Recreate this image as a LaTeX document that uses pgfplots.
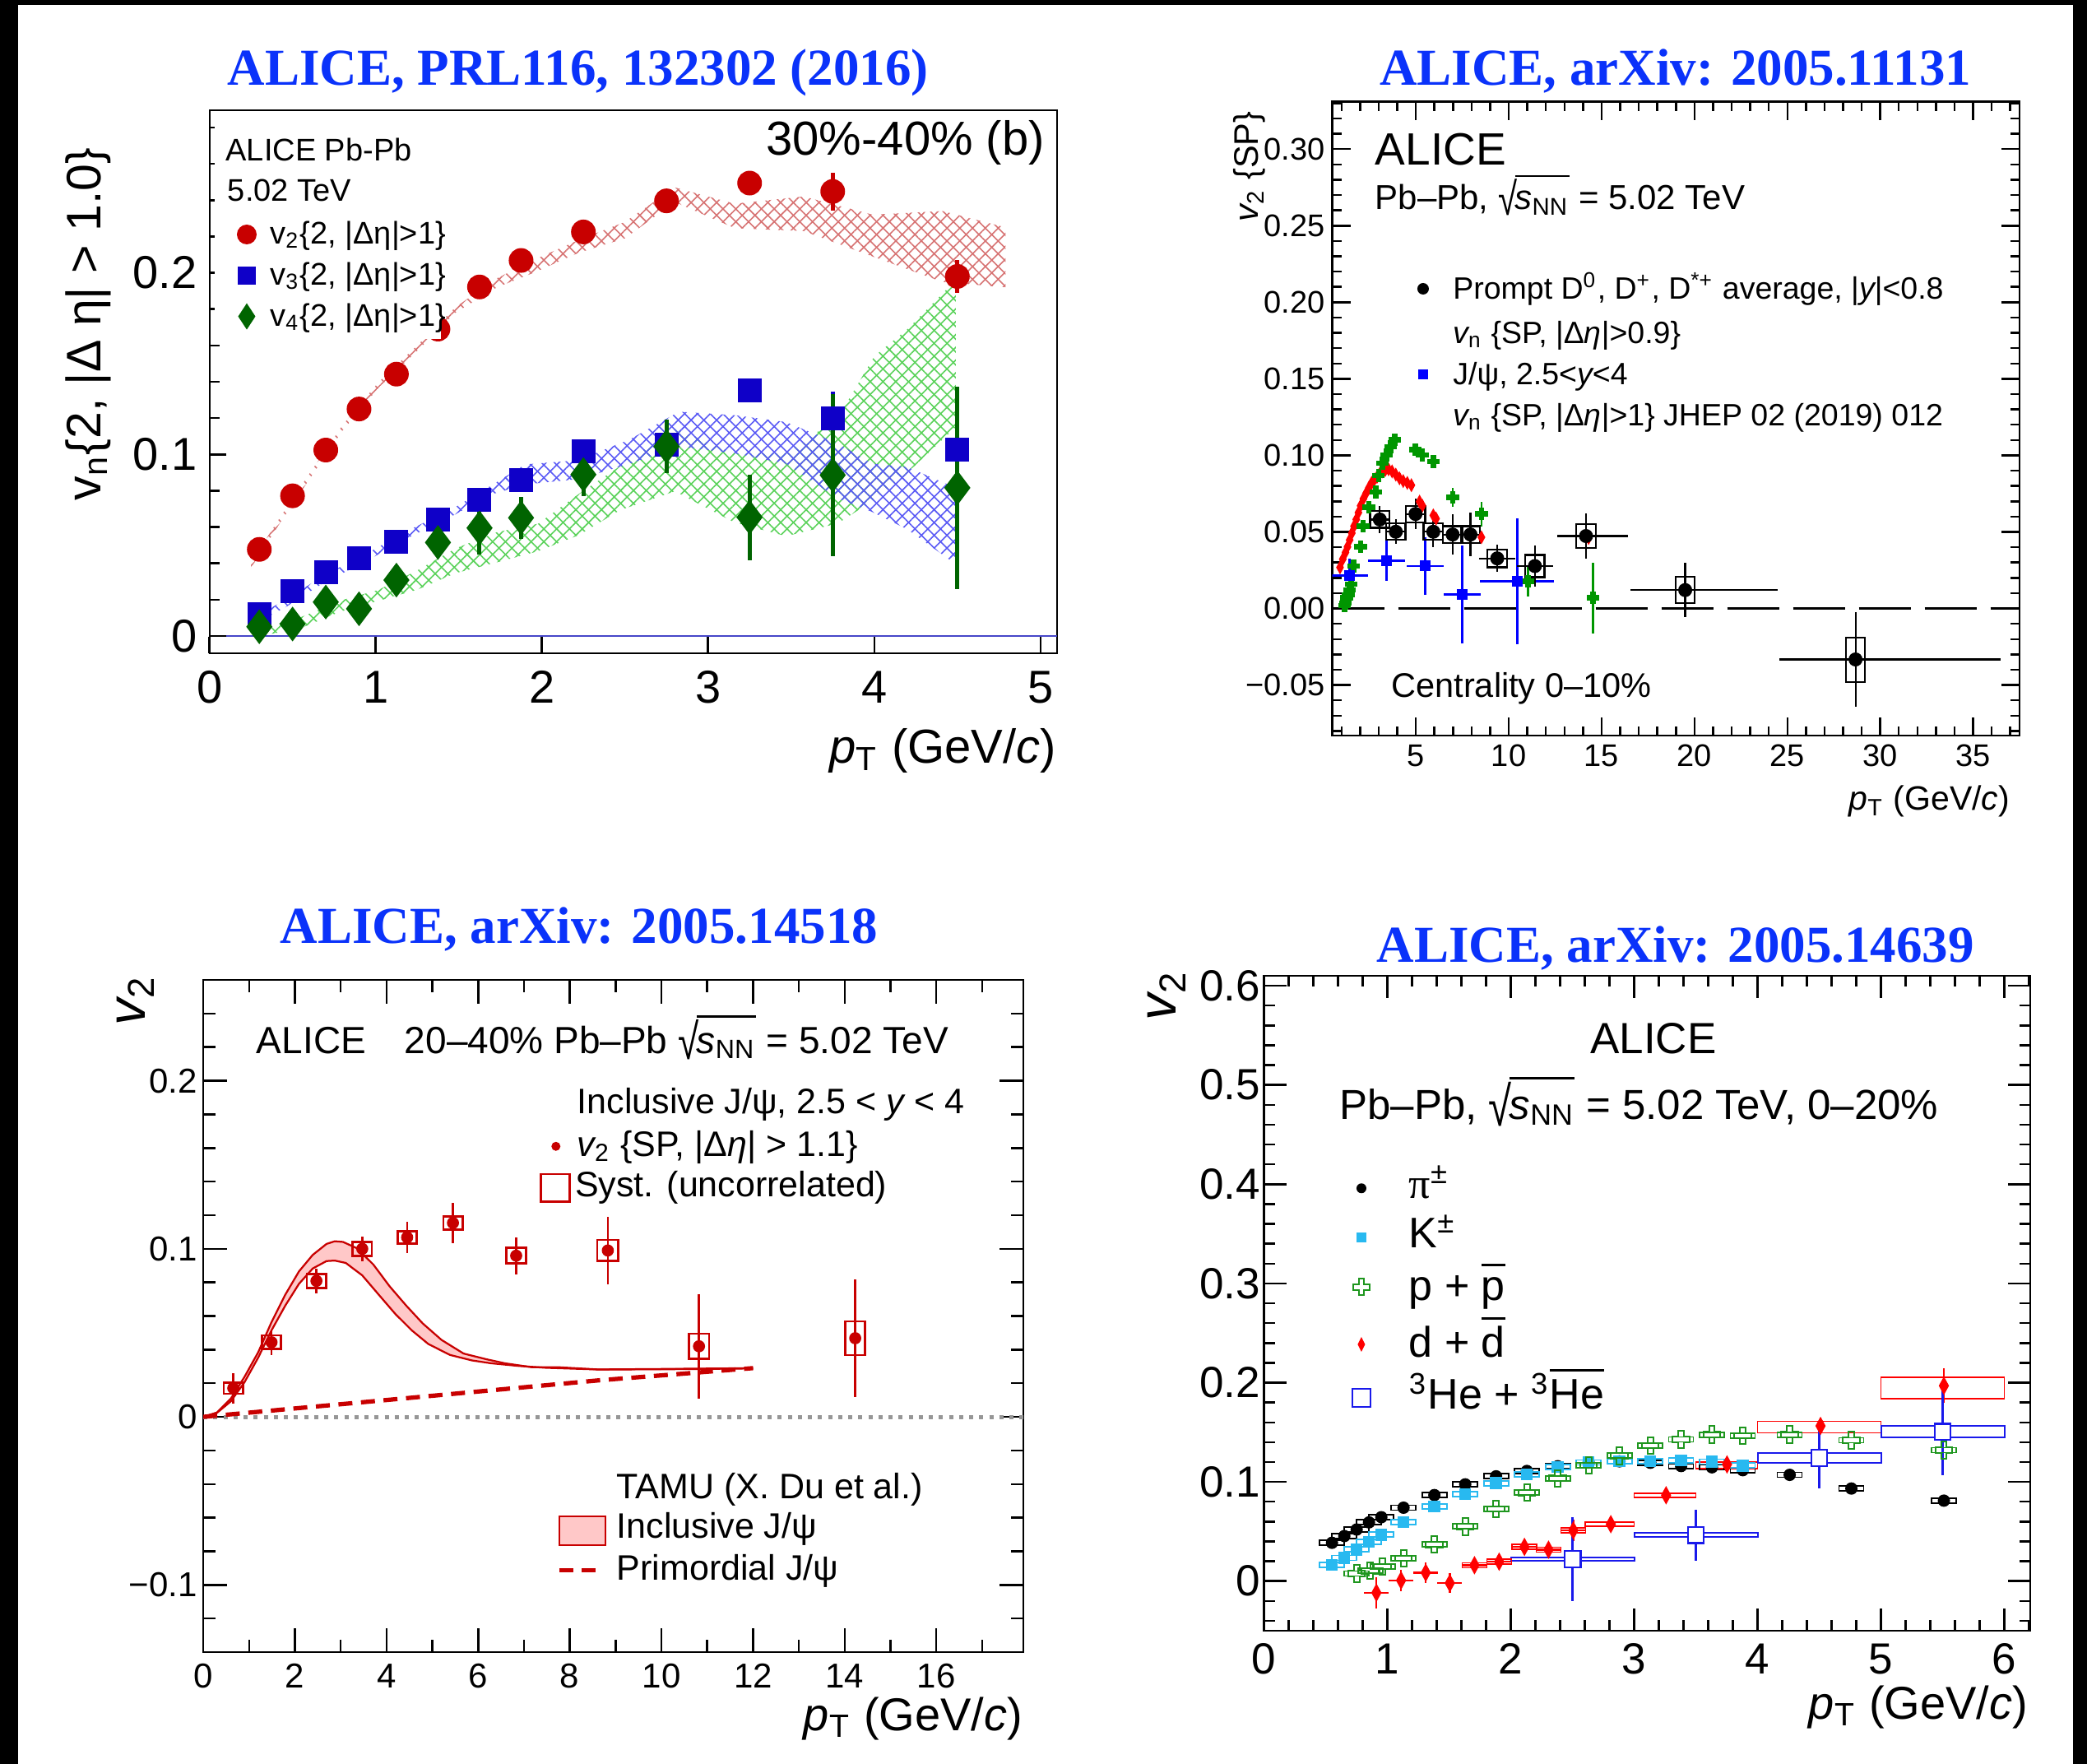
\documentclass[border=0pt]{standalone}
\usepackage{fontspec}
\setmainfont{Liberation Sans}
\newfontfamily\serif{Liberation Serif}
\usepackage{graphicx}
\usepackage{pgfplots}
\pgfplotsset{compat=1.18}
\usetikzlibrary{patterns.meta}

\definecolor{tblue}{RGB}{10,50,250}
\definecolor{aRed}{RGB}{200,0,0}
\definecolor{aBlue}{RGB}{15,0,200}
\definecolor{aGreen}{RGB}{0,100,0}
\definecolor{bRed}{RGB}{215,115,115}
\definecolor{bBlue}{RGB}{90,90,245}
\definecolor{bGreen}{RGB}{90,210,90}
\definecolor{zLine}{RGB}{70,70,200}
\definecolor{cRed}{RGB}{255,0,0}
\definecolor{cBlue}{RGB}{0,0,255}
\definecolor{cGreen}{RGB}{0,150,0}
\definecolor{dRed}{RGB}{200,0,0}
\definecolor{dPink}{RGB}{255,200,200}
\definecolor{dGray}{RGB}{150,150,150}
\definecolor{eCyan}{RGB}{40,185,240}
\definecolor{eGreen}{RGB}{30,150,30}
\definecolor{eRed}{RGB}{255,0,0}
\definecolor{eBlue}{RGB}{25,25,235}

\newcommand\fs[1]{\fontsize{#1bp}{#1bp}\selectfont}
\newcommand\ovl[2]{{\setbox0=\hbox{#2}\rlap{\rule[#1]{\wd0}{0.055em}}\box0}}
\newcommand\sNN{\raisebox{-0.16em}{\scalebox{1}[1.32]{√}}\kern-0.06em{\setbox0=\hbox{{\itshape s}\textsubscript{NN}}\rlap{\rule[0.95em]{\wd0}{0.05em}}\box0}}

\pgfdeclareplotmark{fcross}{%
  \pgfpathmoveto{\pgfqpoint{-0.33\pgfplotmarksize}{\pgfplotmarksize}}%
  \pgfpathlineto{\pgfqpoint{0.33\pgfplotmarksize}{\pgfplotmarksize}}%
  \pgfpathlineto{\pgfqpoint{0.33\pgfplotmarksize}{0.33\pgfplotmarksize}}%
  \pgfpathlineto{\pgfqpoint{\pgfplotmarksize}{0.33\pgfplotmarksize}}%
  \pgfpathlineto{\pgfqpoint{\pgfplotmarksize}{-0.33\pgfplotmarksize}}%
  \pgfpathlineto{\pgfqpoint{0.33\pgfplotmarksize}{-0.33\pgfplotmarksize}}%
  \pgfpathlineto{\pgfqpoint{0.33\pgfplotmarksize}{-\pgfplotmarksize}}%
  \pgfpathlineto{\pgfqpoint{-0.33\pgfplotmarksize}{-\pgfplotmarksize}}%
  \pgfpathlineto{\pgfqpoint{-0.33\pgfplotmarksize}{-0.33\pgfplotmarksize}}%
  \pgfpathlineto{\pgfqpoint{-\pgfplotmarksize}{-0.33\pgfplotmarksize}}%
  \pgfpathlineto{\pgfqpoint{-\pgfplotmarksize}{0.33\pgfplotmarksize}}%
  \pgfpathlineto{\pgfqpoint{-0.33\pgfplotmarksize}{0.33\pgfplotmarksize}}%
  \pgfpathclose\pgfusepathqfillstroke}
\pgfdeclareplotmark{ocross}{%
  \pgfpathmoveto{\pgfqpoint{-0.33\pgfplotmarksize}{\pgfplotmarksize}}%
  \pgfpathlineto{\pgfqpoint{0.33\pgfplotmarksize}{\pgfplotmarksize}}%
  \pgfpathlineto{\pgfqpoint{0.33\pgfplotmarksize}{0.33\pgfplotmarksize}}%
  \pgfpathlineto{\pgfqpoint{\pgfplotmarksize}{0.33\pgfplotmarksize}}%
  \pgfpathlineto{\pgfqpoint{\pgfplotmarksize}{-0.33\pgfplotmarksize}}%
  \pgfpathlineto{\pgfqpoint{0.33\pgfplotmarksize}{-0.33\pgfplotmarksize}}%
  \pgfpathlineto{\pgfqpoint{0.33\pgfplotmarksize}{-\pgfplotmarksize}}%
  \pgfpathlineto{\pgfqpoint{-0.33\pgfplotmarksize}{-\pgfplotmarksize}}%
  \pgfpathlineto{\pgfqpoint{-0.33\pgfplotmarksize}{-0.33\pgfplotmarksize}}%
  \pgfpathlineto{\pgfqpoint{-\pgfplotmarksize}{-0.33\pgfplotmarksize}}%
  \pgfpathlineto{\pgfqpoint{-\pgfplotmarksize}{0.33\pgfplotmarksize}}%
  \pgfpathlineto{\pgfqpoint{-0.33\pgfplotmarksize}{0.33\pgfplotmarksize}}%
  \pgfpathclose\pgfusepathqstroke}
\pgfdeclareplotmark{tdiamond*}{%
  \pgfpathmoveto{\pgfqpoint{0pt}{\pgfplotmarksize}}%
  \pgfpathlineto{\pgfqpoint{0.55\pgfplotmarksize}{0pt}}%
  \pgfpathlineto{\pgfqpoint{0pt}{-\pgfplotmarksize}}%
  \pgfpathlineto{\pgfqpoint{-0.55\pgfplotmarksize}{0pt}}%
  \pgfpathclose\pgfusepathqfillstroke}
\pgfdeclareplotmark{sbox}{%
  \pgfpathrectangle{\pgfqpoint{-3bp}{-0.6bp}}{\pgfqpoint{6bp}{1.2bp}}%
  \pgfusepathqstroke}

\pgfplotsset{
  rootax/.style={scale only axis, anchor=south west, tick align=inside, tick pos=both,
    axis line style={line width=0.5bp, black},
    tick style={line width=0.5bp, black},
    unbounded coords=jump, clip=true},
  hatchA/.style={draw=none, pattern={Lines[angle=45, distance=2.2bp, line width=0.32bp]}, pattern color=#1},
  hatchB/.style={draw=none, pattern={Lines[angle=-45, distance=2.2bp, line width=0.32bp]}, pattern color=#1},
}

\begin{document}
\begin{tikzpicture}
\path[use as bounding box] (0,0) rectangle (507.4bp,-428.8bp);
\fill[black] (0,0) rectangle (507.4bp,-428.8bp);
\fill[white] (4.4bp,-1.2bp) rectangle (504bp,-428.8bp);

%================ PANEL 1 =================
\begin{axis}[rootax, at={(50.92bp,-158.8bp)}, width=206.08bp, height=132bp,
  xmin=0, xmax=5.1, ymin=-0.0095, ymax=0.2895, tick pos=left,
  xtick={0,1,2,3,4,5}, xticklabels={0,1,2,3,4,5},
  ytick={0,0.1,0.2}, yticklabels={0,0.1,0.2},
  minor ytick={0.02,0.04,...,0.28},
  major tick length=4.1bp, minor tick length=2.4bp,
  axis line style={line width=0.4bp},
  xticklabel style={font=\fs{11.2}, anchor=base, yshift=-12.1bp},
  yticklabel style={font=\fs{11.2}, anchor=east, inner xsep=0pt, xshift=-2.8bp}]
\addplot[hatchA=bGreen] coordinates {(0.3,0.004)(0.54,0.010)(0.79,0.0195)(1.02,0.0255)(1.25,0.0361)(1.48,0.0482)(1.73,0.0572)(1.977,0.0618)(2.225,0.0784)(2.47,0.0935)(2.8,0.114)(3.16,0.1006)(3.47,0.1006)(3.78,0.12)(4.0,0.154)(4.2,0.169)(4.49,0.196)(4.49,0.115)(4.2,0.09)(4.0,0.075)(3.78,0.062)(3.47,0.055)(3.16,0.0625)(2.8,0.0797)(2.47,0.0693)(2.225,0.0557)(1.977,0.0467)(1.73,0.0406)(1.48,0.0346)(1.25,0.0255)(1.02,0.0195)(0.79,0.0135)(0.54,0.004)(0.3,0.0)};
\addplot[hatchB=bGreen] coordinates {(0.3,0.004)(0.54,0.010)(0.79,0.0195)(1.02,0.0255)(1.25,0.0361)(1.48,0.0482)(1.73,0.0572)(1.977,0.0618)(2.225,0.0784)(2.47,0.0935)(2.8,0.114)(3.16,0.1006)(3.47,0.1006)(3.78,0.12)(4.0,0.154)(4.2,0.169)(4.49,0.196)(4.49,0.115)(4.2,0.09)(4.0,0.075)(3.78,0.062)(3.47,0.055)(3.16,0.0625)(2.8,0.0797)(2.47,0.0693)(2.225,0.0557)(1.977,0.0467)(1.73,0.0406)(1.48,0.0346)(1.25,0.0255)(1.02,0.0195)(0.79,0.0135)(0.54,0.004)(0.3,0.0)};
\addplot[hatchA=bBlue] coordinates {(0.3,0.012)(0.46,0.020)(0.69,0.0335)(0.92,0.044)(1.15,0.056)(1.48,0.071)(1.68,0.082)(1.9,0.0945)(2.22,0.0968)(2.53,0.1083)(2.825,0.1235)(3.158,0.1216)(3.47,0.1178)(3.78,0.106)(3.99,0.0949)(4.2,0.093)(4.49,0.0816)(4.49,0.0396)(4.2,0.0587)(3.99,0.0682)(3.78,0.0758)(3.47,0.0949)(3.158,0.1006)(2.825,0.1044)(2.53,0.0949)(2.22,0.0864)(1.9,0.0835)(1.68,0.0775)(1.48,0.067)(1.15,0.052)(0.92,0.040)(0.69,0.0295)(0.46,0.016)(0.3,0.008)};
\addplot[hatchB=bBlue] coordinates {(0.3,0.012)(0.46,0.020)(0.69,0.0335)(0.92,0.044)(1.15,0.056)(1.48,0.071)(1.68,0.082)(1.9,0.0945)(2.22,0.0968)(2.53,0.1083)(2.825,0.1235)(3.158,0.1216)(3.47,0.1178)(3.78,0.106)(3.99,0.0949)(4.2,0.093)(4.49,0.0816)(4.49,0.0396)(4.2,0.0587)(3.99,0.0682)(3.78,0.0758)(3.47,0.0949)(3.158,0.1006)(2.825,0.1044)(2.53,0.0949)(2.22,0.0864)(1.9,0.0835)(1.68,0.0775)(1.48,0.067)(1.15,0.052)(0.92,0.040)(0.69,0.0295)(0.46,0.016)(0.3,0.008)};
\addplot[hatchA=bRed] coordinates {(0.25,0.0405)(0.43,0.066)(0.61,0.0905)(0.8,0.116)(1.02,0.140)(1.25,0.160)(1.48,0.181)(1.73,0.197)(1.95,0.207)(2.22,0.218)(2.5,0.228)(2.8,0.247)(3.16,0.238)(3.575,0.242)(3.99,0.232)(4.41,0.234)(4.79,0.225)(4.79,0.192)(4.41,0.195)(3.99,0.209)(3.575,0.223)(3.16,0.2246)(2.8,0.239)(2.5,0.219)(2.22,0.211)(1.95,0.200)(1.73,0.192)(1.48,0.178)(1.25,0.157)(1.02,0.137)(0.8,0.113)(0.61,0.0875)(0.43,0.063)(0.25,0.0375)};
\addplot[hatchB=bRed] coordinates {(0.25,0.0405)(0.43,0.066)(0.61,0.0905)(0.8,0.116)(1.02,0.140)(1.25,0.160)(1.48,0.181)(1.73,0.197)(1.95,0.207)(2.22,0.218)(2.5,0.228)(2.8,0.247)(3.16,0.238)(3.575,0.242)(3.99,0.232)(4.41,0.234)(4.79,0.225)(4.79,0.192)(4.41,0.195)(3.99,0.209)(3.575,0.223)(3.16,0.2246)(2.8,0.239)(2.5,0.219)(2.22,0.211)(1.95,0.200)(1.73,0.192)(1.48,0.178)(1.25,0.157)(1.02,0.137)(0.8,0.113)(0.61,0.0875)(0.43,0.063)(0.25,0.0375)};
\addplot[zLine, line width=0.45bp] coordinates {(0.1,0) (5.1,0)};
\addplot[only marks, mark=*, mark size=2.8bp, aRed, error bars/.cd, y dir=both, y explicit, error mark=none, error bar style={line width=1bp}] coordinates {
(0.3,0.0477)+-(0,0) (0.5,0.0772)+-(0,0) (0.7,0.1024)+-(0,0) (0.9,0.125)+-(0,0) (1.125,0.1442)+-(0,0) (1.375,0.169)+-(0,0) (1.625,0.1922)+-(0,0) (1.875,0.2068)+-(0,0) (2.25,0.2225)+-(0,0) (2.75,0.2396)+-(0,0) (3.25,0.2494)+-(0,0) (3.75,0.2448)+-(0,0.0104) (4.5,0.198)+-(0,0.009)};
\addplot[only marks, mark=square*, mark size=2.7bp, aBlue, error bars/.cd, y dir=both, y explicit, error mark=none, error bar style={line width=1bp}] coordinates {
(0.3,0.012)+-(0,0) (0.5,0.0248)+-(0,0) (0.7,0.0351)+-(0,0) (0.9,0.043)+-(0,0) (1.125,0.052)+-(0,0) (1.375,0.064)+-(0,0) (1.625,0.0751)+-(0,0) (1.875,0.086)+-(0,0) (2.25,0.1018)+-(0,0.003) (2.75,0.1054)+-(0,0) (3.25,0.1353)+-(0,0) (3.75,0.1197)+-(0,0.015) (4.5,0.1025)+-(0,0)};
\addplot[only marks, mark=diamond*, mark size=3.9bp, aGreen, error bars/.cd, y dir=both, y explicit, error mark=none, error bar style={line width=1bp}] coordinates {
(0.3,0.0051)+-(0,0) (0.5,0.0066)+-(0,0) (0.7,0.0187)+-(0,0) (0.9,0.015)+-(0,0) (1.125,0.0308)+-(0,0) (1.375,0.0515)+-(0,0.006) (1.625,0.0595)+-(0,0.0147) (1.875,0.0651)+-(0,0.0117) (2.25,0.0889)+-(0,0.012) (2.75,0.1044)+-(0,0.0148) (3.25,0.0654)+-(0,0.0236) (3.75,0.0886)+-(0,0.0448) (4.5,0.0816)+-(0,0.0558)};
\end{axis}

%================ PANEL 2 =================
\begin{axis}[rootax, at={(323.9bp,-178.8bp)}, width=167.1bp, height=154.1bp,
  xmin=0.5, xmax=37.5, ymin=-0.083, ymax=0.331,
  xtick={5,10,...,35}, xticklabels={5,10,15,20,25,30,35},
  minor xtick={1,...,37},
  ytick={-0.05,0,0.05,0.1,0.15,0.2,0.25,0.3},
  yticklabels={−0.05,0.00,0.05,0.10,0.15,0.20,0.25,0.30},
  minor ytick={-0.08,-0.07,...,0.33},
  major tick length=4.4bp, minor tick length=2.2bp,
  xticklabel style={font=\fs{7.6}, anchor=base, yshift=-7.4bp},
  yticklabel style={font=\fs{7.6}, anchor=east, inner xsep=0pt, xshift=-1.6bp}]
\addplot[black, line width=0.5bp, dash pattern=on 12.6bp off 3.4bp] coordinates {(0.5,0) (37.5,0)};
\addplot[only marks, mark=tdiamond*, mark size=1.3bp, cRed] coordinates {
(0.918,0.0268)(1.065,0.0322)(1.213,0.0366)(1.317,0.0402)(1.435,0.0447)(1.553,0.0492)(1.671,0.0537)(1.79,0.0581)(1.908,0.0626)(2.026,0.0671)(2.174,0.0716)(2.32,0.0752)(2.47,0.0788)(2.617,0.082)(2.765,0.0841)(2.91,0.0859)(3.06,0.0881)(3.21,0.0895)(3.355,0.0904)(3.53,0.0909)(3.72,0.0895)(3.92,0.0874)(4.12,0.085)(4.32,0.0832)(4.54,0.082)(4.76,0.0805)(5.20,0.0698)(5.35,0.0671)(5.94,0.0608)(6.09,0.0587)(8.53,0.0465)(14.3,0.046)};
\addplot[only marks, mark=fcross, mark size=1.35bp, cGreen, error bars/.cd, y dir=both, y explicit, error mark=none, error bar style={line width=0.5bp}] coordinates {
(1.17,0.002)+-(0,0) (1.21,0.0035)+-(0,0) (1.28,0.007)+-(0,0) (1.36,0.0089)+-(0,0) (1.43,0.012)+-(0,0) (1.51,0.016)+-(0,0) (1.66,0.0277)+-(0,0) (2.03,0.0402)+-(0,0) (2.17,0.0537)+-(0,0) (2.47,0.0662)+-(0,0) (2.84,0.0761)+-(0,0) (2.99,0.0868)+-(0,0) (3.21,0.0949)+-(0,0) (3.43,0.1003)+-(0,0) (3.65,0.1056)+-(0,0) (3.87,0.1101)+-(0,0) (4.98,0.1038)+-(0,0) (5.35,0.1003)+-(0,0) (5.94,0.0958)+-(0,0) (6.98,0.0725)+-(0,0.0063) (8.53,0.0617)+-(0,0.008) (11.04,0.0178)+-(0,0.0099) (14.54,0.0069)+-(0,0.023)};
\addplot[only marks, mark=square*, mark size=1.1bp, cBlue, error bars/.cd, x dir=both, x explicit, y dir=both, y explicit, error mark=none, error bar style={line width=0.55bp}] coordinates {
(1.43,0.0214)+-(1.0,0.011) (3.43,0.0312)+-(1.0,0.013) (5.5,0.0277)+-(1.0,0.019) (7.49,0.0092)+-(1.0,0.032) (10.45,0.0178)+-(2.0,0.041)};
\addplot[black, line width=0.45bp, line cap=rect] coordinates {
(2.54,0.0527)(3.58,0.0527)(3.58,0.0635)(2.54,0.0635)(2.54,0.0527)(3,nan)
(3.40,0.0447)(4.44,0.0447)(4.44,0.0555)(3.40,0.0555)(3.40,0.0447)(4,nan)
(4.46,0.0563)(5.50,0.0563)(5.50,0.0671)(4.46,0.0671)(4.46,0.0563)(5,nan)
(5.42,0.0447)(6.46,0.0447)(6.46,0.0555)(5.42,0.0555)(5.42,0.0447)(6,nan)
(6.46,0.0429)(7.50,0.0429)(7.50,0.0537)(6.46,0.0537)(6.46,0.0429)(7,nan)
(7.42,0.0429)(8.46,0.0429)(8.46,0.0537)(7.42,0.0537)(7.42,0.0429)(8,nan)
(8.86,0.0269)(9.90,0.0269)(9.90,0.0385)(8.86,0.0385)(8.86,0.0269)(9,nan)
(10.89,0.0205)(11.93,0.0205)(11.93,0.0349)(10.89,0.0349)(10.89,0.0205)(11,nan)
(13.64,0.0396)(14.68,0.0396)(14.68,0.055)(13.64,0.055)(13.64,0.0396)(14,nan)
(18.98,0.0034)(20.02,0.0034)(20.02,0.0206)(18.98,0.0206)(18.98,0.0034)(19,nan)
(28.15,-0.0481)(29.19,-0.0481)(29.19,-0.0189)(28.15,-0.0189)(28.15,-0.0481)};
\addplot[only marks, mark=*, mark size=1.5bp, black, error bars/.cd, x dir=both, x explicit, y dir=both, y explicit, error mark=none, error bar style={line width=0.45bp}] coordinates {
(3.06,0.0581) += (0.5,0.009) -= (0.5,0.009)
(3.92,0.0501) += (0.5,0.008) -= (0.5,0.008)
(4.98,0.0617) += (0.5,0.0098) -= (0.5,0.0098)
(5.94,0.0501) += (0.5,0.010) -= (0.5,0.010)
(6.98,0.0483) += (0.5,0.013) -= (0.5,0.013)
(7.94,0.0483) += (0.5,0.0143) -= (0.5,0.0143)
(9.38,0.0327) += (0.96,0.009) -= (0.96,0.009)
(11.41,0.0277) += (0.96,0.0134) -= (0.96,0.0134)
(14.16,0.0473) += (2.27,0.0146) -= (1.57,0.0146)
(19.5,0.012) += (5.0,0.0176) -= (2.96,0.0176)
(28.67,-0.0333) += (7.83,0.031) -= (4.09,0.031)};
\end{axis}

%================ PANEL 3 =================
\begin{axis}[rootax, at={(49.42bp,-401.6bp)}, width=199.38bp, height=163.4bp,
  xmin=0, xmax=17.9, ymin=-0.14, ymax=0.26,
  xtick={0,2,...,16}, xticklabels={0,2,4,6,8,10,12,14,16}, minor xtick={1,3,...,17},
  ytick={-0.1,0,0.1,0.2}, yticklabels={−0.1,0,0.1,0.2}, minor ytick={-0.14,-0.12,...,0.26},
  major tick length=5.8bp, minor tick length=3bp,
  xticklabel style={font=\fs{8.4}, anchor=base, yshift=-8.7bp},
  yticklabel style={font=\fs{8.4}, anchor=east, inner xsep=0pt, xshift=-1.3bp}]
\addplot[dGray, line width=1bp, dash pattern=on 1bp off 1.45bp] coordinates {(0,0) (17.9,0)};
\addplot[draw=none, fill=dPink] coordinates {(0,0)(0.3,0.0026)(0.6,0.0108)(0.9,0.0238)(1.2,0.0385)(1.49,0.0564)(1.79,0.0727)(2.09,0.0866)(2.39,0.0964)(2.69,0.1029)(2.87,0.1045)(3.05,0.1041)(3.35,0.1004)(3.71,0.0907)(4.07,0.0776)(4.43,0.0662)(4.79,0.0556)(5.2,0.0458)(5.68,0.0377)(6.16,0.0344)(6.58,0.0319)(7.18,0.0295)(7.78,0.0295)(8.62,0.0282)(10,0.0285)(12,0.029)(12,0.0288)(10,0.0283)(8.62,0.0282)(7.48,0.0292)(6.88,0.0303)(6.28,0.0319)(5.86,0.0336)(5.38,0.0369)(4.91,0.0434)(4.55,0.0515)(4.19,0.0613)(3.83,0.0727)(3.47,0.0842)(3.11,0.0916)(2.87,0.093)(2.69,0.0927)(2.39,0.0883)(2.09,0.0792)(1.79,0.0662)(1.49,0.0515)(1.2,0.0353)(0.9,0.0206)(0.6,0.0092)(0.3,0.0024)(0,0)};
\addplot[dRed, line width=0.45bp] coordinates {(0,0)(0.3,0.0026)(0.6,0.0108)(0.9,0.0238)(1.2,0.0385)(1.49,0.0564)(1.79,0.0727)(2.09,0.0866)(2.39,0.0964)(2.69,0.1029)(2.87,0.1045)(3.05,0.1041)(3.35,0.1004)(3.71,0.0907)(4.07,0.0776)(4.43,0.0662)(4.79,0.0556)(5.2,0.0458)(5.68,0.0377)(6.16,0.0344)(6.58,0.0319)(7.18,0.0295)(7.78,0.0295)(8.62,0.0282)(10,0.0285)(12,0.029)};
\addplot[dRed, line width=0.45bp] coordinates {(0,0)(0.3,0.0024)(0.6,0.0092)(0.9,0.0206)(1.2,0.0353)(1.49,0.0515)(1.79,0.0662)(2.09,0.0792)(2.39,0.0883)(2.69,0.0927)(2.87,0.093)(3.11,0.0916)(3.47,0.0842)(3.83,0.0727)(4.19,0.0613)(4.55,0.0515)(4.91,0.0434)(5.38,0.0369)(5.86,0.0336)(6.28,0.0319)(6.88,0.0303)(7.48,0.0292)(8.62,0.0282)(10,0.0283)(12,0.0288)};
\addplot[dRed, line width=1.05bp, dash pattern=on 3.4bp off 2.1bp] coordinates {(0,0)(4.31,0.0108)(8.62,0.0217)(12,0.029)};
\addplot[dRed, line width=0.55bp, line cap=rect] coordinates {
(0.445,0.0138)(0.865,0.0138)(0.865,0.0204)(0.445,0.0204)(0.445,0.0138)(1,nan)
(1.28,0.0403)(1.70,0.0403)(1.70,0.0485)(1.28,0.0485)(1.28,0.0403)(2,nan)
(2.26,0.0767)(2.68,0.0767)(2.68,0.0851)(2.26,0.0851)(2.26,0.0767)(3,nan)
(3.26,0.0959)(3.68,0.0959)(3.68,0.1041)(3.26,0.1041)(3.26,0.0959)(4,nan)
(4.24,0.1032)(4.66,0.1032)(4.66,0.1104)(4.24,0.1104)(4.24,0.1032)(5,nan)
(5.24,0.1116)(5.66,0.1116)(5.66,0.1192)(5.24,0.1192)(5.24,0.1116)(6,nan)
(6.62,0.0913)(7.04,0.0913)(7.04,0.1005)(6.62,0.1005)(6.62,0.0913)(7,nan)
(8.60,0.0927)(9.06,0.0927)(9.06,0.1053)(8.60,0.1053)(8.60,0.0927)(9,nan)
(10.60,0.0345)(11.04,0.0345)(11.04,0.0495)(10.60,0.0495)(10.60,0.0345)(11,nan)
(14.01,0.0368)(14.45,0.0368)(14.45,0.0568)(14.01,0.0568)(14.01,0.0368)};
\addplot[only marks, mark=*, mark size=1.27bp, dRed, error bars/.cd, y dir=both, y explicit, error mark=none, error bar style={line width=0.55bp}] coordinates {
(0.655,0.0171)+-(0,0.009) (1.49,0.0444)+-(0,0.0075) (2.47,0.0809)+-(0,0.0075) (3.47,0.100)+-(0,0.0075) (4.45,0.1068)+-(0,0.0095) (5.45,0.1154)+-(0,0.012) (6.83,0.0959)+-(0,0.011) (8.83,0.099)+-(0,0.020) (10.82,0.042)+-(0,0.031) (14.23,0.0468)+-(0,0.035)};
\end{axis}

%================ PANEL 4 =================
\begin{axis}[rootax, at={(307.34bp,-396.4bp)}, width=186.26bp, height=159.2bp,
  xmin=0, xmax=6.21, ymin=-0.05, ymax=0.61,
  xtick={0,1,...,6}, xticklabels={0,1,2,3,4,5,6}, minor xtick={0.2,0.4,...,6.2},
  ytick={0,0.1,...,0.6}, yticklabels={0,0.1,0.2,0.3,0.4,0.5,0.6}, minor ytick={-0.04,-0.02,...,0.6},
  major tick length=5.4bp, minor tick length=2.6bp,
  xticklabel style={font=\fs{10.6}, anchor=base, yshift=-10.4bp},
  yticklabel style={font=\fs{10.6}, anchor=east, inner xsep=0pt, xshift=-0.8bp}]
% pions
\addplot[only marks, mark=sbox, black, mark options={line width=0.35bp}] coordinates {(0.55,0.0386)(0.65,0.0454)(0.75,0.052)(0.85,0.0592)(0.95,0.0644)(1.13,0.074)(1.38,0.0867)(1.63,0.0975)(1.88,0.1056)(2.13,0.111)(2.38,0.1158)(2.63,0.1195)(2.88,0.1207)(3.13,0.1193)(3.38,0.116)(3.63,0.1147)(3.88,0.1118)(4.26,0.1071)(4.76,0.0933)(5.51,0.0811)};
\addplot[only marks, mark=*, mark size=1.3bp, black] coordinates {(0.55,0.0386)(0.65,0.0454)(0.75,0.052)(0.85,0.0592)(0.95,0.0644)(1.13,0.074)(1.38,0.0867)(1.63,0.0975)(1.88,0.1056)(2.13,0.111)(2.38,0.1158)(2.63,0.1195)(2.88,0.1207)(3.13,0.1193)(3.38,0.116)(3.63,0.1147)(3.88,0.1118)(4.26,0.1071)(4.76,0.0933)(5.51,0.0811)};
% kaons
\addplot[only marks, mark=sbox, eCyan, mark options={line width=0.35bp}] coordinates {(0.55,0.0165)(0.65,0.0235)(0.75,0.0318)(0.85,0.0395)(0.95,0.0468)(1.13,0.0595)(1.38,0.0754)(1.63,0.0877)(1.88,0.0987)(2.13,0.1075)(2.38,0.115)(2.63,0.1195)(2.88,0.121)(3.13,0.121)(3.38,0.1216)(3.63,0.1204)(3.88,0.1164)};
\addplot[only marks, mark=square*, mark size=1.25bp, eCyan] coordinates {(0.55,0.0165)(0.65,0.0235)(0.75,0.0318)(0.85,0.0395)(0.95,0.0468)(1.13,0.0595)(1.38,0.0754)(1.63,0.0877)(1.88,0.0987)(2.13,0.1075)(2.38,0.115)(2.63,0.1195)(2.88,0.121)(3.13,0.121)(3.38,0.1216)(3.63,0.1204)(3.88,0.1164)};
% protons
\addplot[only marks, mark=sbox, eGreen, mark options={line width=0.35bp}] coordinates {(0.75,0.0077)(0.86,0.0104)(0.96,0.0146)(1.13,0.0229)(1.38,0.0369)(1.63,0.0551)(1.88,0.0728)(2.13,0.0892)(2.38,0.1036)(2.63,0.1166)(2.88,0.1264)(3.13,0.1365)(3.38,0.1427)(3.63,0.1476)(3.88,0.1466)(4.26,0.1476)(4.76,0.1419)(5.51,0.132)};
\addplot[only marks, mark=ocross, mark size=2.05bp, eGreen, mark options={line width=0.4bp}] coordinates {(0.75,0.0077)(0.86,0.0104)(0.96,0.0146)(1.13,0.0229)(1.38,0.0369)(1.63,0.0551)(1.88,0.0728)(2.13,0.0892)(2.38,0.1036)(2.63,0.1166)(2.88,0.1264)(3.13,0.1365)(3.38,0.1427)(3.63,0.1476)(3.88,0.1466)(4.26,0.1476)(4.76,0.1419)(5.51,0.132)};
% deuterons
\addplot[only marks, mark=sbox, eRed, mark options={line width=0.35bp}] coordinates {(1.705,0.016)(1.905,0.0196)(2.11,0.0345)(2.305,0.0317)(2.506,0.0511)};
\addplot[eRed, line width=0.35bp, line cap=rect] coordinates {
(2.6,0.0555)(3.0,0.0555)(3.0,0.0593)(2.6,0.0593)(2.6,0.0555)(2.8,nan)
(3.0,0.0845)(3.5,0.0845)(3.5,0.0885)(3.0,0.0885)(3.0,0.0845)(3.2,nan)
(3.5,0.1131)(4.0,0.1131)(4.0,0.1201)(3.5,0.1201)(3.5,0.1131)(3.7,nan)
(4.0,0.1494)(5.0,0.1494)(5.0,0.161)(4.0,0.161)(4.0,0.1494)(4.5,nan)
(5.0,0.1841)(6.0,0.1841)(6.0,0.2056)(5.0,0.2056)(5.0,0.1841)};
\addplot[only marks, mark=tdiamond*, mark size=1.85bp, eRed, error bars/.cd, x dir=both, x explicit, y dir=both, y explicit, error mark=none, error bar style={line width=0.5bp}] coordinates {
(0.91,-0.0117)+-(0.1,0.016) (1.11,0.0007)+-(0.1,0.011) (1.31,0.0085)+-(0.1,0.010) (1.505,-0.002)+-(0.1,0.010) (1.705,0.016)+-(0.1,0.004) (1.905,0.0196)+-(0.1,0.004) (2.11,0.0345)+-(0.1,0.006) (2.305,0.0317)+-(0.1,0.004) (2.506,0.0511)+-(0.1,0.011) (2.81,0.0574)+-(0,0.004) (3.258,0.0865)+-(0,0.004) (3.752,0.1176)+-(0,0.006) (4.51,0.1564)+-(0,0.008) (5.51,0.1969)+-(0,0.0174)};
% helium-3
\addplot[eBlue, line width=0.4bp, line cap=rect] coordinates {
(2.0,0.0209)(3.0,0.0209)(3.0,0.0235)(2.0,0.0235)(2.0,0.0209)(2.5,nan)
(3.0,0.0445)(4.0,0.0445)(4.0,0.0491)(3.0,0.0491)(3.0,0.0445)(3.5,nan)
(4.0,0.1193)(5.0,0.1193)(5.0,0.1291)(4.0,0.1291)(4.0,0.1193)(4.5,nan)
(5.0,0.1448)(6.0,0.1448)(6.0,0.1563)(5.0,0.1563)(5.0,0.1448)};
\addplot[only marks, mark=square*, mark size=1.95bp, eBlue, mark options={fill=white, line width=0.45bp}, error bars/.cd, y dir=both, y explicit, error mark=none, error bar style={line width=0.7bp}] coordinates {
(2.5,0.0222)+-(0,0.042) (3.5,0.0464)+-(0,0.0256) (4.5,0.1242)+-(0,0.0304) (5.5,0.1505)+-(0,0.0435)};
\end{axis}

%================ ANNOTATIONS (pixel coordinates) =================
\begin{scope}[x=0.2bp,y=-0.2bp]
% titles
\begin{scope}[every node/.style={anchor=base, inner sep=0pt, text=tblue, font=\serif\bfseries\fs{12.6}}]
\node at (702.7,103) {ALICE, PRL116, 132302 (2016)};
\node at (2036.8,103) {ALICE, arXiv: 2005.11131};
\node at (704,1147) {ALICE, arXiv: 2005.14518};
\node at (2036.8,1170) {ALICE, arXiv: 2005.14639};
\end{scope}

% ---- panel 1 texts
\fill[white] (261,150) rectangle (536,412);
\node[anchor=base east, inner sep=0pt, font=\fs{11.6}] at (1271,189) {30\%-40\% (b)};
\node[anchor=base west, inner sep=0pt, font=\fs{7.6}] at (273.6,196) {ALICE Pb-Pb};
\node[anchor=base west, inner sep=0pt, font=\fs{7.6}] at (276,245) {5.02 TeV};
\fill[aRed] (300,285) circle (2.4bp);
\fill[aBlue] (289,323.8) rectangle (311,345.8);
\fill[aGreen] (300,368.6) -- (310.5,384.6) -- (300,400.6) -- (289.5,384.6) -- cycle;
\node[anchor=base west, inner sep=0pt, font=\fs{7.6}] at (327.5,297) {v\textsubscript{2}\{2, |Δη|>1\}};
\node[anchor=base west, inner sep=0pt, font=\fs{7.6}] at (327.5,346.8) {v\textsubscript{3}\{2, |Δη|>1\}};
\node[anchor=base west, inner sep=0pt, font=\fs{7.6}] at (327.5,396.6) {v\textsubscript{4}\{2, |Δη|>1\}};
\node[rotate=90, anchor=base, inner sep=0pt, font=\fs{11.8}] at (122,394) {v\textsubscript{n}\{2, |Δ η| > 1.0\}};
\node[anchor=base east, inner sep=0pt, font=\fs{11.6}] at (1285,928) {{\itshape p}\textsubscript{T} (GeV/{\itshape c})};

% ---- panel 2 texts
\node[anchor=base west, inner sep=0pt, font=\fs{11}] at (1670.8,201) {ALICE};
\node[anchor=base west, inner sep=0pt, font=\fs{8.4}] at (1670.8,255) {Pb–Pb, \sNN{} = 5.02 TeV};
\fill[black] (1730,351) circle (1.4bp);
\fill[cBlue] (1724,449) rectangle (1736,461);
\node[anchor=base west, inner sep=0pt, font=\fs{7.5}] at (1765.4,363.5) {Prompt D\textsuperscript{0}, D\textsuperscript{+}, D\textsuperscript{*+} average, |{\itshape y}|<0.8};
\node[anchor=base west, inner sep=0pt, font=\fs{7.5}] at (1765.4,417.7) {{\itshape v}\textsubscript{n} \{SP, |Δ{\itshape η}|>0.9\}};
\node[anchor=base west, inner sep=0pt, font=\fs{7.5}] at (1765.4,467.5) {J/ψ, 2.5<{\itshape y}<4};
\node[anchor=base west, inner sep=0pt, font=\fs{7.5}] at (1765.4,518) {{\itshape v}\textsubscript{n} \{SP, |Δ{\itshape η}|>1\} JHEP 02 (2019) 012};
\node[anchor=base west, inner sep=0pt, font=\fs{8.3}] at (1690.5,848) {Centrality 0–10\%};
\node[rotate=90, anchor=base, inner sep=0pt, font=\fs{8.3}] at (1530,202.6) {{\itshape v}\textsubscript{2} \{SP\}};
\node[anchor=base east, inner sep=0pt, font=\fs{8.2}] at (2444,985) {{\itshape p}\textsubscript{T} (GeV/{\itshape c})};

% ---- panel 3 texts
\node[anchor=base west, inner sep=0pt, font=\fs{9.2}] at (311,1280.3) {ALICE};
\node[anchor=base west, inner sep=0pt, font=\fs{9.2}] at (490.9,1280.3) {20–40\% Pb–Pb \sNN{} = 5.02 TeV};
\node[anchor=base west, inner sep=0pt, font=\fs{8.6}] at (700.7,1353.6) {Inclusive J/ψ, 2.5 < {\itshape y} < 4};
\fill[dRed] (675.8,1393.3) circle (1.1bp);
\node[anchor=base west, inner sep=0pt, font=\fs{8.6}] at (700.7,1405.9) {{\itshape v}\textsubscript{2} \{SP, |Δ{\itshape η}| > 1.1\}};
\draw[dRed, line width=0.5bp] (657.5,1426.8) rectangle (692.4,1460.3);
\node[anchor=base west, inner sep=0pt, font=\fs{8.6}] at (698.2,1454.7) {Syst. (uncorrelated)};
\node[anchor=base west, inner sep=0pt, font=\fs{8.6}] at (748.8,1821.1) {TAMU (X. Du et al.)};
\filldraw[fill=dPink, draw=dRed, line width=0.45bp] (680,1843.4) rectangle (736.3,1878.3);
\node[anchor=base west, inner sep=0pt, font=\fs{8.6}] at (748.8,1870) {Inclusive J/ψ};
\draw[dRed, line width=1.05bp, dash pattern=on 3.4bp off 2.1bp] (680,1908.3) -- (731.3,1908.3);
\node[anchor=base west, inner sep=0pt, font=\fs{8.6}] at (748.8,1920.2) {Primordial J/ψ};
\node[rotate=90, anchor=base, inner sep=0pt, font=\fs{13}] at (176,1216) {{\itshape v}\textsubscript{2}};
\node[anchor=base east, inner sep=0pt, font=\fs{11.2}] at (1244,2103.7) {{\itshape p}\textsubscript{T} (GeV/{\itshape c})};

% ---- panel 4 texts
\node[anchor=base, inner sep=0pt, font=\fs{10.6}] at (2010,1280.3) {ALICE};
\node[anchor=base west, inner sep=0pt, font=\fs{10.2}] at (1627.4,1360.5) {Pb–Pb, \sNN{} = 5.02 TeV, 0–20\%};
\fill[black] (1655,1444.3) circle (1.2bp);
\fill[eCyan] (1649,1497.6) rectangle (1661,1509.6);
\draw[eGreen, line width=0.4bp] (1651.7,1554.3) -- ++(6.6,0) -- ++(0,6.7) -- ++(6.7,0) -- ++(0,6.6) -- ++(-6.7,0) -- ++(0,6.7) -- ++(-6.6,0) -- ++(0,-6.7) -- ++(-6.7,0) -- ++(0,-6.6) -- ++(6.7,0) -- cycle;
\fill[eRed] (1655,1625) -- (1659.5,1634) -- (1655,1643) -- (1650.5,1634) -- cycle;
\draw[eBlue, line width=0.45bp] (1644,1688) rectangle (1666,1710);
\node[anchor=base west, inner sep=0pt, font=\fs{10.4}] at (1711.8,1456.8) {{\serif π}\textsuperscript{±}};
\node[anchor=base west, inner sep=0pt, font=\fs{10.4}] at (1711.8,1516.2) {K\textsuperscript{±}};
\node[anchor=base west, inner sep=0pt, font=\fs{10.4}] at (1711.8,1580.4) {p + \ovl{0.8em}{p}};
\node[anchor=base west, inner sep=0pt, font=\fs{10.4}] at (1711.8,1650) {d + \ovl{0.88em}{d}};
\node[anchor=base west, inner sep=0pt, font=\fs{10.4}] at (1711.8,1713) {\textsuperscript{3}He + \textsuperscript{3}\ovl{0.88em}{He}};
\node[rotate=90, anchor=base, inner sep=0pt, font=\fs{13}] at (1430,1210) {{\itshape v}\textsubscript{2}};
\node[anchor=base east, inner sep=0pt, font=\fs{11.2}] at (2466,2089.8) {{\itshape p}\textsubscript{T} (GeV/{\itshape c})};
\end{scope}
\end{tikzpicture}
\end{document}
